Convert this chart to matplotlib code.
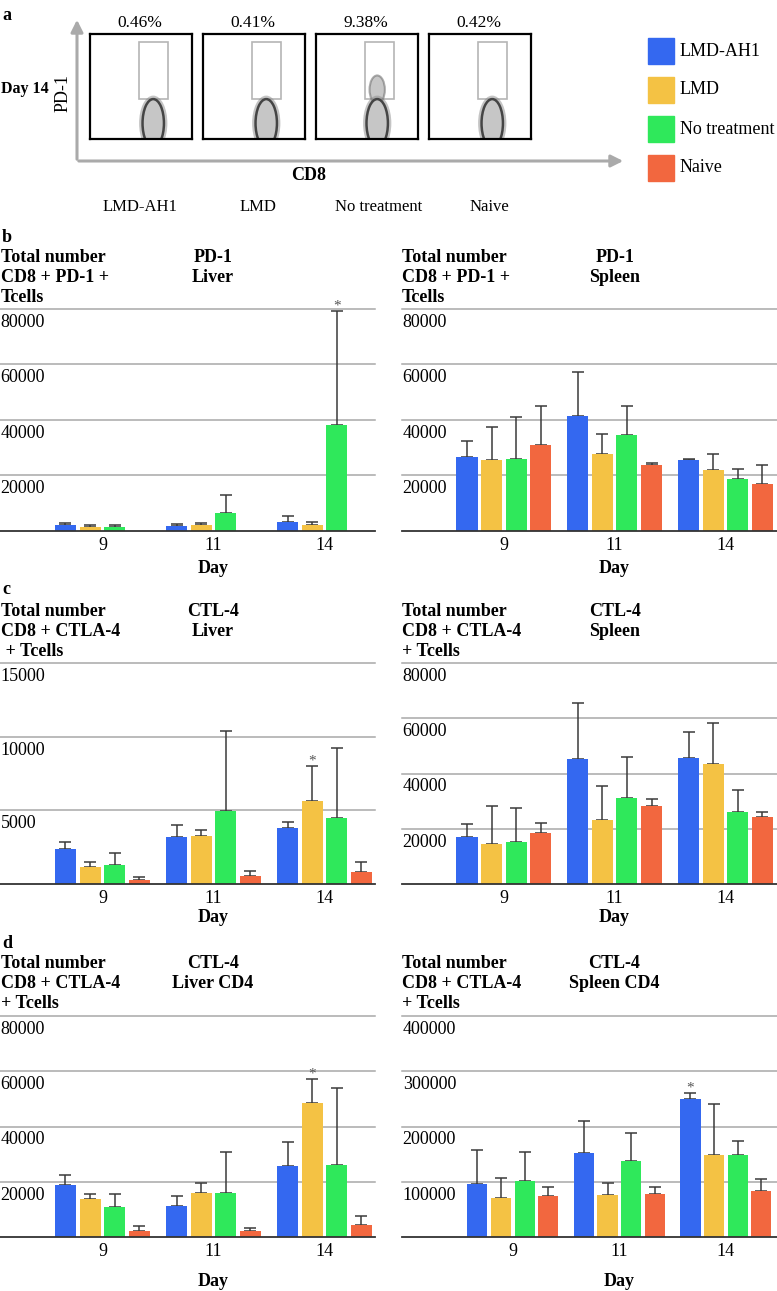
import numpy as np
import matplotlib
matplotlib.use('Agg')
import matplotlib.pyplot as plt
from matplotlib.patches import Rectangle, Ellipse

plt.rcParams['font.family'] = ['Liberation Serif', 'DejaVu Serif']
plt.rcParams['font.size'] = 13

W, H = 777, 1291

# ---- data ----
groups = ['LMD-AH1', 'LMD', 'No treatment', 'Naive']
colors = ['#3468F0', '#F4C244', '#2FE85B', '#F2673F']
days = ['9', '11', '14']
pct_day14 = ['0.46%', '0.41%', '9.38%', '0.42%']
nan = np.nan

# PD-1 liver / spleen (mean and upper sd, one row per group)
pd1_liver = [[2200, 1800, 3100], [1500, 2200, 2000], [1600, 6600, 38200], [nan, nan, nan]]
pd1_liver_sd = [[700, 600, 2300], [500, 700, 1200], [600, 6300, 41200], [nan, nan, nan]]
pd1_spleen = [[26800, 41600, 25500], [25600, 27900, 21900], [25800, 34600, 18600], [31000, 23800, 17000]]
pd1_spleen_sd = [[5600, 15600, 500], [11800, 7100, 6000], [15300, 10400, 3700], [14000, 800, 6800]]

# CTLA-4 CD8 liver / spleen
ctla_liver = [[2380, 3210, 3800], [1130, 3260, 5650], [1290, 4970, 4500], [270, 540, 835]]
ctla_liver_sd = [[450, 790, 390], [340, 380, 2380], [810, 5390, 4750], [180, 360, 655]]
ctla_spleen = [[16900, 45300, 45700], [14400, 23000, 43500], [15300, 31200, 26000], [18300, 28200, 24100]]
ctla_spleen_sd = [[4700, 20300, 9400], [13800, 12500, 14700], [12200, 14800, 8100], [3900, 2700, 2100]]

# CTLA-4 CD4 liver / spleen
cd4_liver = [[19000, 11100, 25700], [13600, 16100, 48500], [10900, 16100, 26200], [2300, 2000, 4500]]
cd4_liver_sd = [[3600, 3600, 8800], [2000, 3400, 8700], [4600, 14800, 27900], [1600, 1400, 3200]]
cd4_spleen = [[95900, 151500, 249200], [70600, 75500, 147900], [100800, 137600, 147900], [74800, 77300, 83800]]
cd4_spleen_sd = [[61600, 57900, 12000], [36700, 22800, 92300], [53100, 50600, 25900], [15200, 12700, 21700]]


def rect(x0, y0, x1, y1):
    # pixel box -> figure fraction
    return [x0 / W, 1 - y1 / H, (x1 - x0) / W, (y1 - y0) / H]


fig = plt.figure(figsize=(W / 100, H / 100), dpi=100)
ax0 = fig.add_axes([0, 0, 1, 1])
ax0.set_xlim(0, W)
ax0.set_ylim(H, 0)
ax0.axis('off')

# ---- panel a ----
ax0.text(2, 15, 'a', weight='bold', va='center', ha='left')
ax0.annotate('', xy=(77, 17), xytext=(77, 162),
             arrowprops=dict(arrowstyle='-|>', color='#aaaaaa', lw=2.2, mutation_scale=18))
ax0.annotate('', xy=(626, 161), xytext=(76, 161),
             arrowprops=dict(arrowstyle='-|>', color='#aaaaaa', lw=2.2, mutation_scale=18))
ax0.text(1, 89, 'Day 14', weight='bold', va='center', ha='left', fontsize=11.5)
ax0.text(63, 93, 'PD-1', rotation=90, va='center', ha='center')
ax0.text(309, 176, 'CD8', weight='bold', va='center', ha='center')

name_x = [103, 240, 335, 470]
for i in range(4):
    x0 = 90 + 113 * i
    axf = fig.add_axes(rect(x0, 34, x0 + 102, 139))
    axf.set_xlim(0, 1)
    axf.set_ylim(0, 1)
    axf.set_xticks([])
    axf.set_yticks([])
    for s in axf.spines.values():
        s.set_linewidth(1.6)
        s.set_zorder(5)
    axf.add_patch(Rectangle((0.485, 0.38), 0.28, 0.54, fill=False, ec='#b5b5b5', lw=1.2))
    cx = 0.62 if i != 2 else 0.6
    if i == 2:
        axf.add_patch(Ellipse((0.6, 0.47), 0.15, 0.27, fc='#9a9a9a', ec='#6a6a6a', lw=1.5, alpha=0.55))
    axf.add_patch(Ellipse((cx, 0.15), 0.25, 0.5, fc='none', ec='#8a8a8a', lw=2, alpha=0.5))
    axf.add_patch(Ellipse((cx, 0.15), 0.21, 0.46, fc='#c6c6c6', ec='#454545', lw=1.8))
    ax0.text(x0 + 50, 23, pct_day14[i], ha='center', va='center', fontsize=12.5)
    ax0.text(name_x[i], 207, groups[i], ha='left', va='center', fontsize=12)

# legend
for i in range(4):
    yc = 51 + 39 * i
    ax0.add_patch(Rectangle((648, yc - 13), 26, 26, color=colors[i]))
    ax0.text(680, yc, groups[i], ha='left', va='center')


# ---- bar panels ----
def bar_panel(x0, y0, x1, y1, xlim, means, sds, ymax, step, star=None, day_dy=27):
    ax = fig.add_axes(rect(x0, y0, x1, y1))
    ax.patch.set_alpha(0)
    for s in ax.spines.values():
        s.set_visible(False)
    x = np.arange(len(days))
    width, pitch = 0.19, 0.222
    for v in np.arange(step, ymax + step / 2, step):
        ax.axhline(v, color='#a8a8a8', lw=1.1, zorder=1, clip_on=False)
        ax.annotate(f'{int(v)}', xy=(0, v), xycoords=('axes fraction', 'data'),
                    xytext=(0.5, -3.5), textcoords='offset points', ha='left', va='top')
    for i in range(4):
        pos = x + (i - 1.5) * pitch
        m = np.array(means[i], dtype=float)
        e = np.array(sds[i], dtype=float)
        ax.bar(pos, m, width, color=colors[i], zorder=3)
        ax.errorbar(pos, m, yerr=[np.zeros(3), e], fmt='none', ecolor='#3a3a3a',
                    elinewidth=1.1, capsize=4, capthick=1.1, zorder=2)
    if star is not None:
        gi, di = star
        ax.annotate('*', xy=(di + (gi - 1.5) * pitch, means[gi][di] + sds[gi][di]),
                    xytext=(0, -1), textcoords='offset points', ha='center', va='bottom',
                    fontsize=11, color='#555555')
    ax.axhline(0, color='#333333', lw=1.3, zorder=4, clip_on=False)
    ax.set_ylim(0, ymax)
    ax.set_xlim(*xlim)
    ax.set_yticks([])
    ax.set_xticks(x, days)
    ax.tick_params(axis='x', length=0, pad=4.5)
    ax.annotate('Day', xy=(1, 0), xycoords=('data', 'axes fraction'), xytext=(0, -day_dy),
                textcoords='offset points', ha='center', va='center', weight='bold')
    return ax


def titles(x_left, x_mid, ys, left_lines, mid_lines):
    for y, t in zip(ys, left_lines):
        ax0.text(x_left, y, t, weight='bold', ha='left', va='center')
    for y, t in zip(ys, mid_lines):
        ax0.text(x_mid, y, t, weight='bold', ha='center', va='center')


xl_left = (-0.923, 2.455)
xl_right = (-0.92, 2.466)

# b
ax0.text(2, 238, 'b', weight='bold', va='center', ha='left')
ys = [258, 277.5, 297]
titles(1, 213, ys, ['Total number', 'CD8 + PD-1 +', 'Tcells'], ['PD-1', 'Liver'])
titles(402, 615, ys, ['Total number', 'CD8 + PD-1 +', 'Tcells'], ['PD-1', 'Spleen'])
bar_panel(0, 309, 375, 531, xl_left, pd1_liver, pd1_liver_sd, 80000, 20000, star=(2, 2))
bar_panel(402, 309, 777, 531, xl_right, pd1_spleen, pd1_spleen_sd, 80000, 20000)

# c
ax0.text(2, 590, 'c', weight='bold', va='center', ha='left')
ys = [612, 632, 651]
titles(1, 213, ys, ['Total number', 'CD8 + CTLA-4', ' + Tcells'], ['CTL-4', 'Liver'])
titles(402, 615, ys, ['Total number', 'CD8 + CTLA-4', '+ Tcells'], ['CTL-4', 'Spleen'])
bar_panel(0, 663, 375, 884, xl_left, ctla_liver, ctla_liver_sd, 15000, 5000, star=(1, 2), day_dy=24)
bar_panel(402, 663, 777, 884, xl_right, ctla_spleen, ctla_spleen_sd, 80000, 20000, day_dy=24)

# d
ax0.text(2, 943, 'd', weight='bold', va='center', ha='left')
ys = [964, 983, 1003]
titles(1, 213, ys, ['Total number', 'CD8 + CTLA-4', '+ Tcells'], ['CTL-4', 'Liver CD4'])
titles(402, 614, ys, ['Total number', 'CD8 + CTLA-4', '+ Tcells'], ['CTL-4', 'Spleen CD4'])
bar_panel(0, 1016, 375, 1237, xl_left, cd4_liver, cd4_liver_sd, 80000, 20000, star=(1, 2), day_dy=32)
bar_panel(402, 1016, 777, 1237, (-1.04, 2.48), cd4_spleen, cd4_spleen_sd, 400000, 100000,
          star=(0, 2), day_dy=32)

fig.savefig('out.png', dpi=100)
